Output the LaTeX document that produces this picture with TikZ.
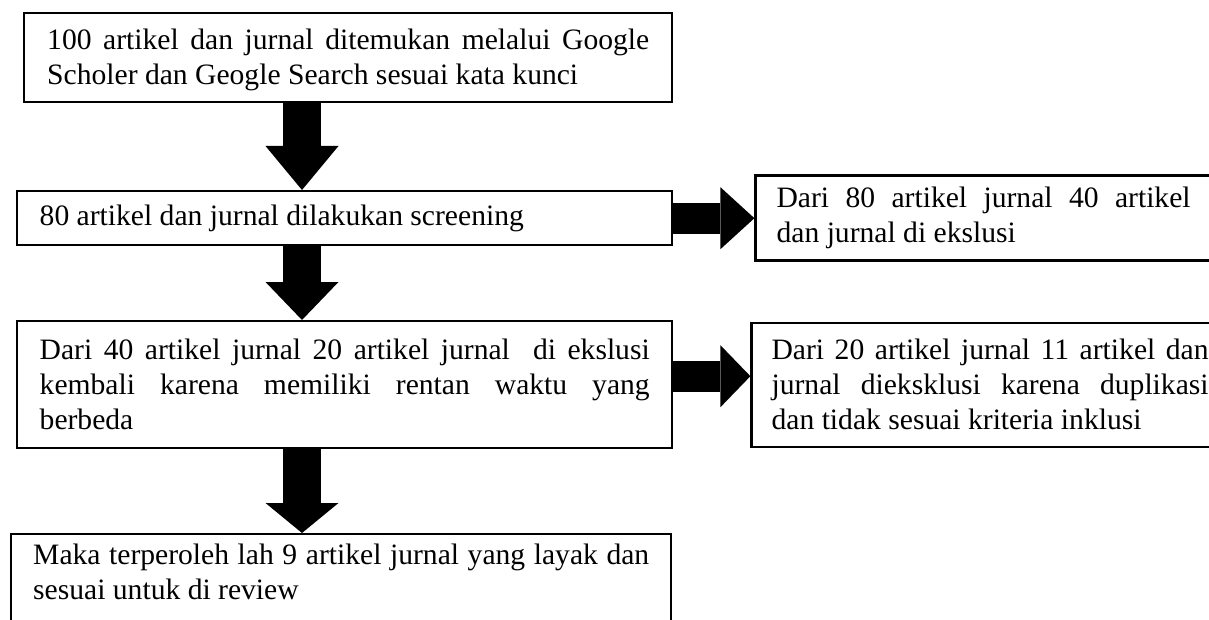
\documentclass[tikz,border=0pt]{standalone}
\usepackage{fontspec}
\setmainfont{Liberation Serif}
\usepackage{tikz}
\usetikzlibrary{arrows.meta,positioning}
\hyphenpenalty=10000
\exhyphenpenalty=10000
\tikzset{
  box/.style={draw,line width=1.2pt,fill=white,align=justify,inner ysep=0pt,font=\fontsize{14.8pt}{17.5pt}\selectfont},
  ardn/.style={line width=19pt,-{Triangle[length=#1,width=36.5pt,line width=0pt]}},
  arrt/.style={line width=15.5pt,-{Triangle[length=#1,width=31pt,line width=0pt]}}
}
\begin{document}
\begin{tikzpicture}[x=0.5pt,y=-0.5pt]
\useasboundingbox (0,0) rectangle (1209,620);
% main column
\node[box,anchor=north west,text width=301pt,inner xsep=11.5pt,minimum height=44.5pt,text height=12pt] (b1) at (23,12)
  {100 artikel dan jurnal ditemukan melalui Google Scholer dan Geogle Search sesuai kata kunci};
\node[box,anchor=north west,text width=305pt,inner xsep=11.25pt,minimum height=27pt] (b2) at (16,190)
  {80 artikel dan jurnal dilakukan screening};
\node[box,anchor=north west,text width=305pt,inner xsep=11.25pt,minimum height=63.5pt] (b3) at (16,320)
  {Dari 40 artikel jurnal 20 artikel jurnal~ di ekslusi\linebreak kembali karena memiliki rentan waktu yang\linebreak berbeda};
\node[box,anchor=north west,text width=308pt,inner xsep=11pt,inner ysep=4.8pt,text depth=40pt] (b4) at (10,533)
  {Maka terperoleh lah 9 artikel jurnal yang layak dan sesuai untuk di review};
% side boxes
\node[box,right=40.5pt of b2,text width=207pt,inner xsep=10.5pt,minimum height=42.5pt] (r1)
  {Dari 80 artikel jurnal 40 artikel\linebreak dan jurnal di ekslusi};
\node[box,right=38.5pt of b3,text width=218.5pt,inner xsep=10pt,minimum height=62pt] (r2)
  {Dari 20 artikel jurnal 11 artikel dan\linebreak jurnal dieksklusi karena duplikasi\linebreak dan tidak sesuai kriteria inklusi};
% arrows
\coordinate (ax) at (302,0);
\draw[ardn=22pt] (b1.south -| ax) -- (b2.north -| ax);
\draw[ardn=19pt] (b2.south -| ax) -- (b3.north -| ax);
\draw[ardn=15pt] (b3.south -| ax) -- (b4.north -| ax);
\draw[arrt=17pt] (b2.east) -- (b2.east -| r1.west);
\draw[arrt=15pt] ([yshift=4.25pt]b3.east) -- ([yshift=4.25pt]b3.east -| r2.west);
\end{tikzpicture}
\end{document}
